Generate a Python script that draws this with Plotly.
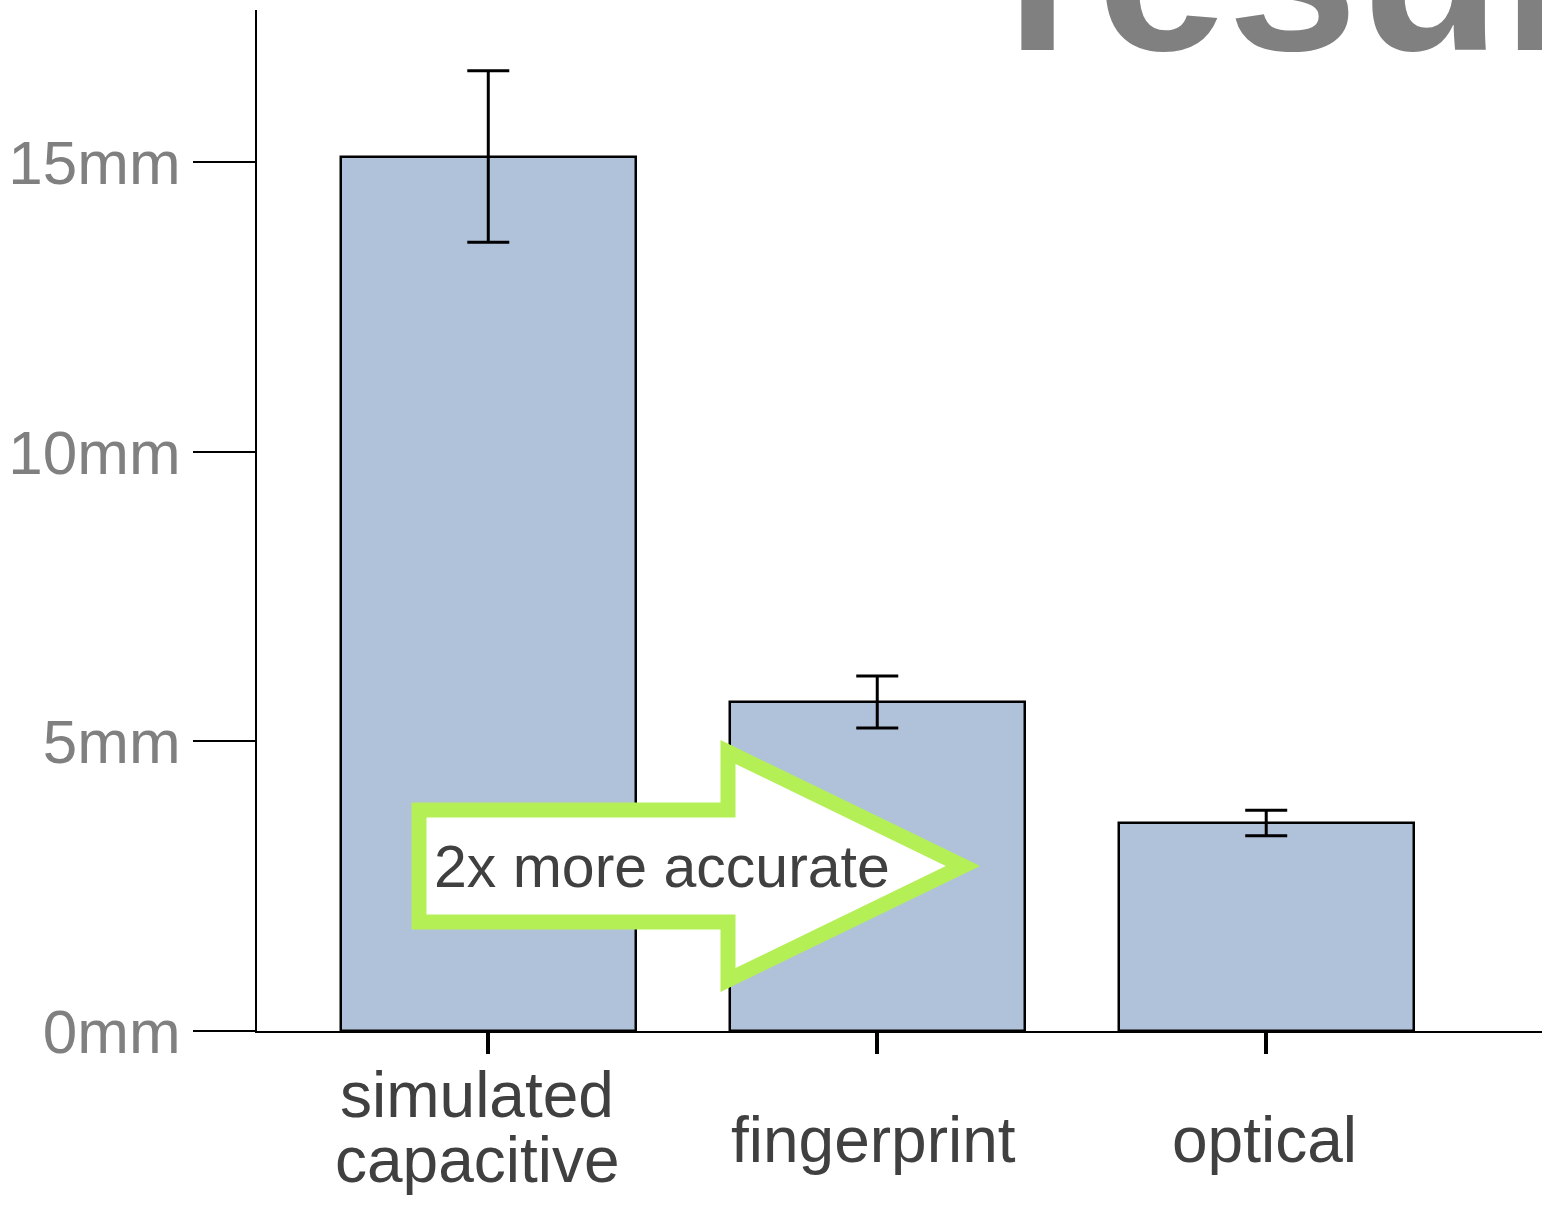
import plotly.graph_objects as go

# ---- data ----
categories = ["simulated capacitive", "fingerprint", "optical"]
label_lines = [["simulated", "capacitive"], ["fingerprint"], ["optical"]]
values = [15.10, 5.68, 3.59]
errors = [1.48, 0.45, 0.22]
y_tickvals = [0, 5, 10, 15]
y_ticktext = ["0mm", "5mm", "10mm", "15mm"]
title_text = "results"
arrow_text = "2x more accurate"

W, H = 1542, 1206
L, R, T, B = 257, 0, 10, 175
PW, PH = W - L - R, H - T - B

def px(x):
    return (x - L) / PW

def py(y):
    return (H - B - y) / PH

FONT = "Liberation Sans, Arial, sans-serif"

fig = go.Figure()
fig.add_trace(go.Bar(
    x=list(range(len(categories))), y=values,
    width=0.758,
    marker=dict(color="#b0c2da", line=dict(color="black", width=2.5)),
    error_y=dict(type="data", array=errors, visible=True,
                 color="black", thickness=3, width=21),
    hoverinfo="skip",
))

# arrow decoration (paper coords)
pts = [(419, 810), (728, 810), (728, 752), (963, 866), (728, 980), (728, 922), (419, 922)]
path = "M " + " L ".join(f"{px(a):.5f},{py(b):.5f}" for a, b in pts) + " Z"
fig.add_shape(type="path", path=path, xref="paper", yref="paper",
              fillcolor="white", line=dict(color="#b4ef55", width=15), layer="above")

annotations = []
annotations.append(dict(text=arrow_text, x=px(662), y=py(867), xref="paper", yref="paper",
                        xanchor="center", yanchor="middle", showarrow=False,
                        font=dict(family=FONT, size=59, color="#404040")))
annotations.append(dict(text="<b>" + title_text + "</b>", x=px(1003), y=py(-32),
                        xref="paper", yref="paper", xanchor="left", yanchor="middle",
                        showarrow=False,
                        font=dict(family=FONT, size=235, color="#808080")))

# category labels (vertically centred like the original slide)
baselines = {1: [1162], 2: [1117, 1182]}
xshifts = [-11, -4, -2]
for i, lines in enumerate(label_lines):
    for j, line in enumerate(lines):
        bl = baselines[len(lines)][j]
        annotations.append(dict(text=line, x=i, y=py(bl - 22), xref="x", yref="paper",
                                xanchor="center", yanchor="middle", showarrow=False,
                                xshift=xshifts[i],
                                font=dict(family=FONT, size=64, color="#404040")))

fig.update_layout(
    width=W, height=H,
    margin=dict(l=L, r=R, t=T, b=B, pad=0),
    paper_bgcolor="white", plot_bgcolor="white",
    showlegend=False,
    bargap=0,
    annotations=annotations,
    font=dict(family=FONT),
)
fig.update_xaxes(
    range=[-0.5946, 2.709], tickvals=[0, 1, 2], showticklabels=False,
    ticks="outside", ticklen=21, tickwidth=4, tickcolor="black",
    showline=True, linecolor="black", linewidth=2, showgrid=False, zeroline=False,
)
fig.update_yaxes(
    range=[0, 17.63], tickvals=y_tickvals, ticktext=y_ticktext,
    ticks="outside", ticklen=62, tickwidth=2, tickcolor="black",
    tickfont=dict(family=FONT, size=62, color="#808080"),
    showline=True, linecolor="black", linewidth=2, showgrid=False, zeroline=False,
)

fig.write_html(
    "out.html",
    config={"displayModeBar": False},
    post_script="document.body.style.margin='0';document.body.style.overflow='hidden';"
                "document.documentElement.style.overflow='hidden';",
)
